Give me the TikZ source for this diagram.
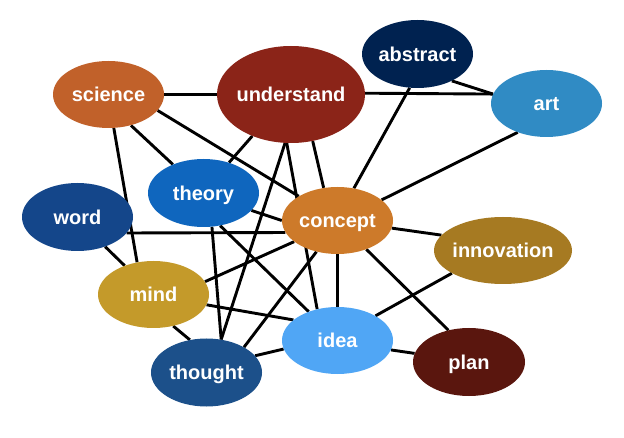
\documentclass[tikz,border=0pt]{standalone}
\usepackage{fontspec}
\setmainfont{Liberation Sans}
\usetikzlibrary{shapes.geometric,backgrounds}
\definecolor{cScience}{HTML}{C1612A}
\definecolor{cUnderstand}{HTML}{8B2418}
\definecolor{cAbstract}{HTML}{002250}
\definecolor{cArt}{HTML}{308BC4}
\definecolor{cTheory}{HTML}{0F66BE}
\definecolor{cWord}{HTML}{14468A}
\definecolor{cConcept}{HTML}{CD7A2A}
\definecolor{cInnovation}{HTML}{A67A22}
\definecolor{cMind}{HTML}{C49A2A}
\definecolor{cIdea}{HTML}{50A6F5}
\definecolor{cThought}{HTML}{1C508A}
\definecolor{cPlan}{HTML}{5A160E}
\newcommand\bublabel[1]{\makebox[0pt]{\raisebox{-7.5pt}[0pt][0pt]{#1}}}
\begin{document}
\begin{tikzpicture}[x=1pt,y=-1pt,
  bub/.style={ellipse, minimum width=111pt, minimum height=67pt, inner sep=0pt,
    text=white, font=\fontsize{20}{24}\selectfont\bfseries},
  link/.style={line width=2.9pt, draw=black}]
\useasboundingbox (0,0) rectangle (624,438);
\node[bub, fill=cScience] (science) at (108.5,94.5) {\bublabel{science}};
\node[bub, fill=cUnderstand, minimum width=148pt, minimum height=97pt] (understand) at (291,94.5) {\bublabel{understand}};
\node[bub, fill=cAbstract, minimum height=68pt] (abstract) at (417.5,54) {\bublabel{abstract}};
\node[bub, fill=cArt] (art) at (546.5,103.5) {\bublabel{art}};
\node[bub, fill=cTheory, minimum height=68pt] (theory) at (203.5,193) {\bublabel{theory}};
\node[bub, fill=cWord, minimum height=68pt] (word) at (77.5,217) {\bublabel{word}};
\node[bub, fill=cConcept] (concept) at (337.5,220.5) {\bublabel{concept}};
\node[bub, fill=cInnovation, minimum width=138pt] (innovation) at (503,250.5) {\bublabel{innovation}};
\node[bub, fill=cMind] (mind) at (153.5,294.5) {\bublabel{mind}};
\node[bub, fill=cIdea] (idea) at (337.5,340.5) {\bublabel{idea}};
\node[bub, fill=cThought, minimum height=68pt] (thought) at (206.5,372.5) {\bublabel{thought}};
\node[bub, fill=cPlan, minimum width=112pt, minimum height=68pt] (plan) at (469,362) {\bublabel{plan}};
\begin{pgfonlayer}{background}
\fill[white] (0,0) rectangle (624,438);
\draw[link] (science.0) -- (understand.180);
\draw[link] (understand.1) -- (art.170);
\draw[link] (abstract.322) -- (art.170);
\draw[link] (abstract.257) -- (concept.63);
\draw[link] (art.225) -- (concept.25);
\draw[link] (understand.295) -- (concept.113);
\draw[link] (science.306) -- (theory.137);
\draw[link] (science.342) -- (concept.148);
\draw[link] (science.279) -- (mind.117);
\draw[link] (understand.227) -- (theory.50);
\draw[link] (understand.263) -- (thought.66);
\draw[link] (understand.265) -- (idea.123);
\draw[link] (theory.340) -- (concept.180);
\draw[link] (theory.284) -- (thought.66);
\draw[link] (theory.297) -- (idea.135);
\draw[link] (word.342) -- (concept.193);
\draw[link] (word.313) -- (mind.135);
\draw[link] (mind.14) -- (concept.206);
\draw[link] (mind.349) -- (idea.155);
\draw[link] (mind.302) -- (thought.117);
\draw[link] (thought.34) -- (concept.236);
\draw[link] (thought.19) -- (idea.189);
\draw[link] (concept.270) -- (idea.90);
\draw[link] (concept.352) -- (innovation.166);
\draw[link] (concept.315) -- (plan.123);
\draw[link] (idea.33) -- (innovation.204);
\draw[link] (idea.350) -- (plan.171);
\end{pgfonlayer}
\end{tikzpicture}
\end{document}
